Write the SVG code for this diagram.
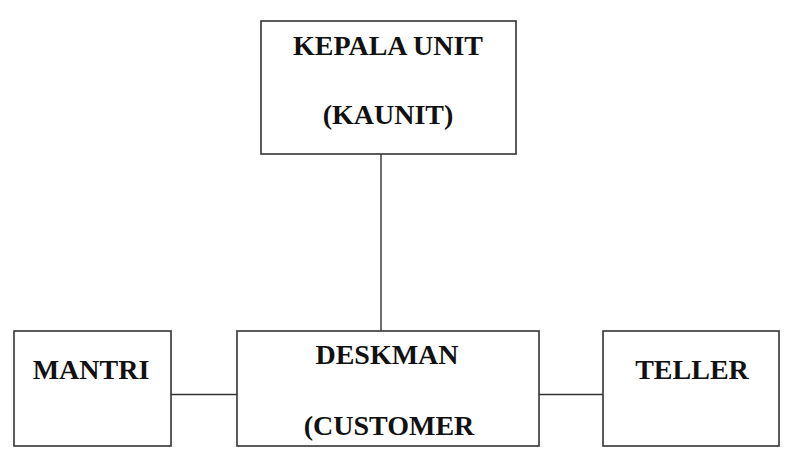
<svg xmlns="http://www.w3.org/2000/svg" width="788" height="462" viewBox="0 0 788 462">
<style>
.box{fill:#fff;stroke:#333;stroke-width:1.6}
.conn{stroke:#333;stroke-width:1.4;fill:none}
.t{font-family:"Liberation Serif","Times New Roman",serif;font-weight:bold;font-size:28px;fill:#111;text-anchor:middle}
</style>
<rect width="788" height="462" fill="#fff"/>
<g id="connectors">
<line class="conn" x1="381" y1="154" x2="381" y2="331"/>
<line class="conn" x1="171" y1="394.5" x2="237" y2="394.5"/>
<line class="conn" x1="539" y1="394.5" x2="603" y2="394.5"/>
</g>
<g id="kaunit">
<rect class="box" x="261" y="21" width="255" height="133"/>
<text class="t" x="388" y="55">KEPALA UNIT</text>
<text class="t" x="388" y="124">(KAUNIT)</text>
</g>
<g id="mantri">
<rect class="box" x="14" y="331" width="157" height="115"/>
<text class="t" x="91" y="379">MANTRI</text>
</g>
<g id="deskman">
<rect class="box" x="237" y="331" width="302" height="115"/>
<text class="t" x="387" y="364">DESKMAN</text>
<text class="t" x="389" y="435">(CUSTOMER</text>
</g>
<g id="teller">
<rect class="box" x="603" y="331" width="176" height="115"/>
<text class="t" x="692" y="379">TELLER</text>
</g>
</svg>
